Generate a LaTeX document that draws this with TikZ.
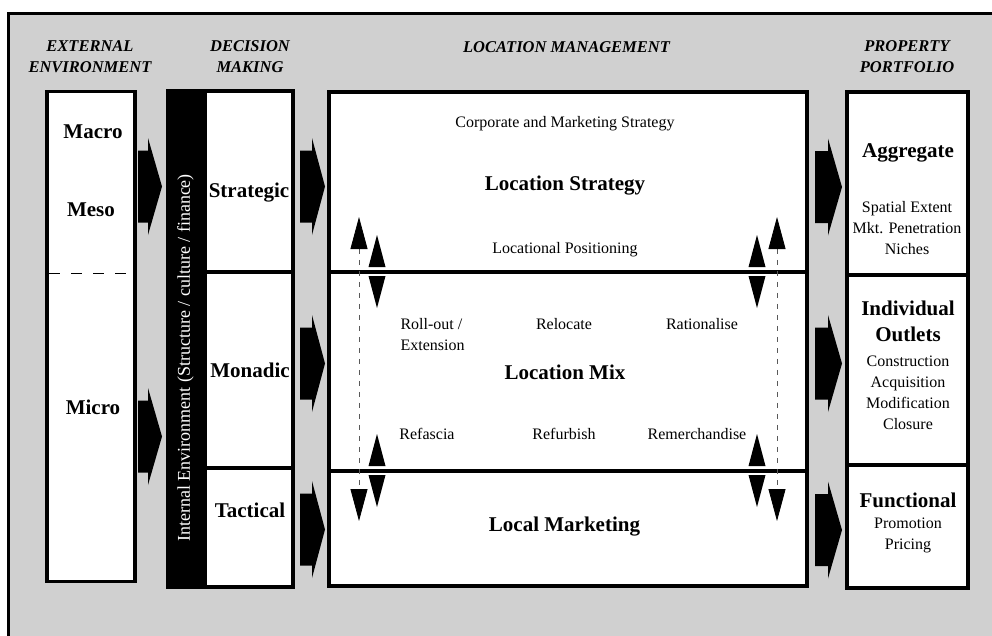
\documentclass[tikz,border=0pt]{standalone}
\usepackage{fontspec}
\setmainfont{Liberation Serif}
\usetikzlibrary{arrows.meta}
\definecolor{bggray}{RGB}{208,208,208}
\newcommand\fatarr[4]{\fill (#1,#4-36) -- (#2,#4-36) -- (#2,#4-48.5) -- (#3,#4) -- (#2,#4+48.5) -- (#2,#4+36) -- (#1,#4+36) -- cycle;}
\newcommand\tri[3]{\fill (#1-8.5,#2) -- (#1+8.5,#2) -- (#1,#3) -- cycle;}
\tikzset{
  box/.style={draw=black, fill=white, line width=3.2pt},
  divline/.style={line width=3.2pt},
  hdr/.style={font=\fontsize{16.5}{21}\selectfont\bfseries\itshape, align=center},
  big/.style={font=\fontsize{21}{26}\selectfont\bfseries, align=center},
  reg/.style={font=\fontsize{16}{21}\selectfont, align=center},
  dline/.style={dash pattern=on 5pt off 6pt, line width=0.8pt, draw=black!65},
  tip/.style={{Triangle[length=32pt,width=17pt,black]}-{Triangle[length=32pt,width=17pt,black]}}
}
\begin{document}
\begin{tikzpicture}[x=1pt,y=-1pt]
\useasboundingbox (0,0) rectangle (992,635);
\fill[white] (0,0) rectangle (992,635);
\fill[bggray] (8,13) rectangle (1000,645);
\draw[line width=3pt] (8,645) -- (8,13) -- (1000,13);

% headers
\node[hdr] (hext) at (90,57) {EXTERNAL\\ENVIRONMENT};
\node[hdr] (hdec) at (250,57) {DECISION\\MAKING};
\node[hdr] (hloc) at (566.5,47) {LOCATION MANAGEMENT};
\node[hdr] (hpro) at (907,57) {PROPERTY\\PORTFOLIO};

% external environment box
\draw[box] (47,91.5) rectangle (135,581.5);
\draw[dash pattern=on 11pt off 11pt, line width=0.8pt] (49,273) -- (131,273);
\node[big] (macro) at (93,132) {Macro};
\node[big] (meso) at (91,210) {Meso};
\node[big] (micro) at (93,407) {Micro};

% internal environment bar
\fill (166,91) rectangle (205,588);
\node[font=\fontsize{18}{22}\selectfont, text=white, rotate=90] (intenv) at (185.5,358) {Internal Environment (Structure / culture / finance)};

% decision box
\draw[box] (205,91) rectangle (293,587);
\fill (166,89.4) rectangle (205,92.6);
\fill (166,585.4) rectangle (205,588.6);
\draw[divline] (205,272) -- (293,272);
\draw[divline] (205,468) -- (293,468);
\node[big] (strat) at (249,193) {Strategic};
\node[big] (mona) at (250,370) {Monadic};
\node[big] (tact) at (250,510) {Tactical};

% location management box
\draw[box] (329,92) rectangle (807,586);
\draw[divline] (329,272) -- (807,272);
\draw[divline] (329,471) -- (807,471);
\node[reg] (cms) at (565,124) {Corporate and Marketing Strategy};
\node[big] (ls) at (565,186) {Location Strategy};
\node[reg] (lp) at (565,250) {Locational Positioning};
\node[reg, align=left, anchor=west] (roll) at (397,335) {Roll-out /\\Extension};
\node[reg] (reloc) at (564,324) {Relocate};
\node[reg] (ratio) at (702,324) {Rationalise};
\node[big] (lmix) at (565,372) {Location Mix};
\node[reg] (refas) at (427,434) {Refascia};
\node[reg] (refur) at (564,434) {Refurbish};
\node[reg] (remer) at (697,434) {Remerchandise};
\node[big] (lmkt) at (564.5,527) {Local Marketing};

% dashed double arrows
\coordinate (dl1) at (359,217); \coordinate (dl2) at (359,521);
\coordinate (dr1) at (777,217); \coordinate (dr2) at (777,521);
\draw[dline, tip] (dl1) -- (dl2);
\draw[dline, tip] (dr1) -- (dr2);

% small triangle pairs at the dividers
\tri{377}{267}{235} \tri{377}{276}{308}
\tri{377}{466}{434} \tri{377}{475}{507}
\tri{757}{267}{235} \tri{757}{276}{308}
\tri{757}{466}{434} \tri{757}{475}{507}

% property portfolio box
\draw[box] (847,92) rectangle (968,588);
\draw[divline] (847,275) -- (968,275);
\draw[divline] (847,465) -- (968,465);
\node[big] (aggr) at (908,153) {Aggregate};
\node[reg] (aggrt) at (907,228) {Spatial Extent\\Mkt. Penetration\\Niches};
\node[big] (indiv) at (908,321) {Individual\\Outlets};
\node[reg] (indivt) at (908,393) {Construction\\Acquisition\\Modification\\Closure};
\node[big] (func) at (908,500) {Functional};
\node[reg] (funct) at (908,535) {Promotion\\Pricing};

% fat arrows
\fatarr{138}{148}{162}{186.5}
\fatarr{138}{148}{162}{436.5}
\fatarr{300}{312}{325}{186.5}
\fatarr{300}{312}{325}{363.5}
\fatarr{300}{312}{325}{529.5}
\fatarr{815}{828}{842}{187}
\fatarr{815}{828}{842}{363.5}
\fatarr{815}{828}{842}{530}
\end{tikzpicture}
\end{document}
